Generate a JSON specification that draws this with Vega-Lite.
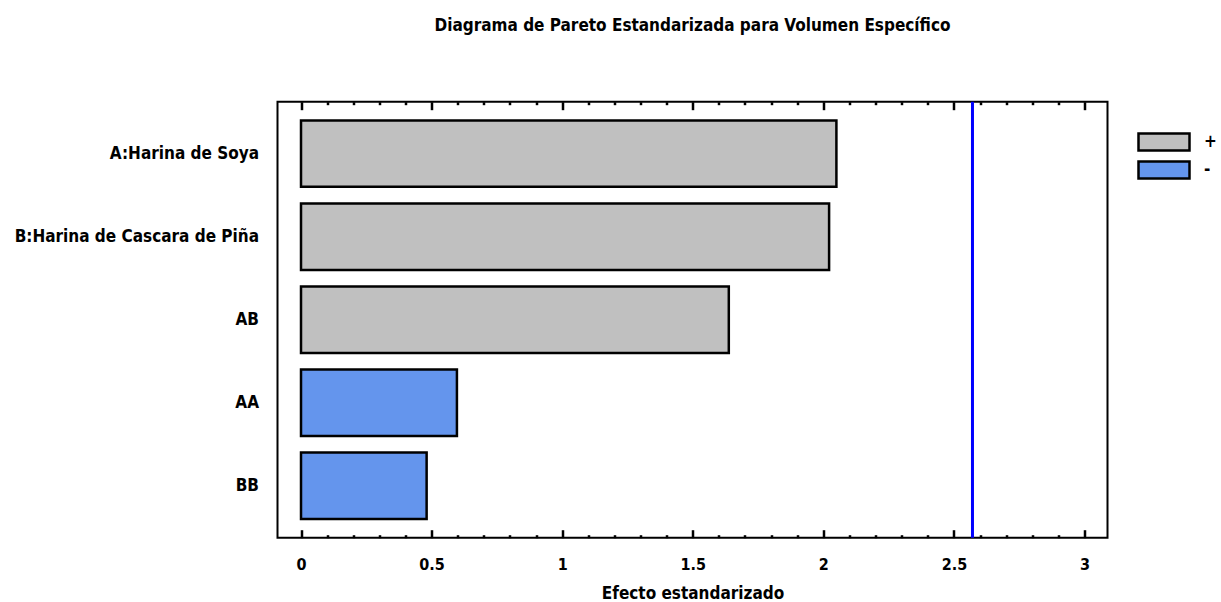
{
  "$schema": "https://vega.github.io/schema/vega-lite/v6.json",
  "width": 830,
  "height": 436,
  "autosize": "none",
  "padding": {"left": 277.5, "top": 101.7, "right": 113.5, "bottom": 64.3},
  "background": "white",
  "config": {
    "view": {"stroke": "black", "strokeWidth": 2},
    "font": "DejaVu Sans Condensed"
  },
  "title": {
    "text": "Diagrama de Pareto Estandarizada para Volumen Específico",
    "font": "DejaVu Sans Condensed",
    "fontSize": 17,
    "fontWeight": "bold",
    "color": "black",
    "anchor": "middle",
    "offset": 65
  },
  "resolve": {"axis": {"x": "independent"}},
  "layer": [
    {
      "data": {
        "values": [
          {"factor": "A:Harina de Soya", "efecto": 2.05, "signo": "+"},
          {"factor": "B:Harina de Cascara de Piña", "efecto": 2.022, "signo": "+"},
          {"factor": "AB", "efecto": 1.638, "signo": "+"},
          {"factor": "AA", "efecto": 0.597, "signo": "-"},
          {"factor": "BB", "efecto": 0.481, "signo": "-"}
        ]
      },
      "mark": {"type": "bar", "stroke": "black", "strokeWidth": 2.5},
      "encoding": {
        "y": {
          "field": "factor",
          "type": "nominal",
          "sort": null,
          "scale": {"paddingInner": 0.2, "paddingOuter": 0.226},
          "axis": {
            "title": null,
            "ticks": false,
            "domain": false,
            "labelPadding": 19,
            "labelLimit": 400,
            "labelFontSize": 17,
            "labelFontWeight": "bold",
            "labelColor": "black",
            "labelFont": "DejaVu Sans Condensed"
          }
        },
        "x": {
          "field": "efecto",
          "type": "quantitative",
          "scale": {"domain": [-0.09, 3.088], "nice": false, "zero": false},
          "axis": {
            "orient": "bottom",
            "values": [0, 0.1, 0.2, 0.3, 0.4, 0.5, 0.6, 0.7, 0.8, 0.9, 1, 1.1, 1.2, 1.3, 1.4, 1.5, 1.6, 1.7, 1.8, 1.9, 2, 2.1, 2.2, 2.3, 2.4, 2.5, 2.6, 2.7, 2.8, 2.9, 3],
            "format": "~g",
            "labelExpr": "abs(round(datum.value*2) - datum.value*2) < 0.001 ? datum.label : ''",
            "tickSize": {"condition": {"test": "abs(round(datum.value*2) - datum.value*2) < 0.001", "value": -8}, "value": -3},
            "tickWidth": 2.5,
            "tickColor": "black",
            "domain": false,
            "grid": false,
            "labelPadding": 27,
            "labelFontSize": 16,
            "labelFontWeight": "bold",
            "labelColor": "black",
            "labelFont": "DejaVu Sans Condensed",
            "title": "Efecto estandarizado",
            "titleFontSize": 17,
            "titleFontWeight": "bold",
            "titleColor": "black",
            "titleFont": "DejaVu Sans Condensed",
            "titlePadding": 13
          }
        },
        "color": {
          "field": "signo",
          "type": "nominal",
          "scale": {"domain": ["+", "-"], "range": ["#C0C0C0", "#6495ED"]},
          "legend": {
            "title": null,
            "orient": "none",
            "legendX": 876.5,
            "legendY": 30.3,
            "padding": 0,
            "symbolType": "M-3,-1H3V1H-3Z",
            "symbolSize": 289,
            "symbolStrokeColor": "black",
            "symbolStrokeWidth": 2.5,
            "symbolOpacity": 1,
            "labelOffset": 30,
            "rowPadding": 0,
            "labelFontSize": 17,
            "labelFontWeight": "bold",
            "labelColor": "black",
            "labelFont": "DejaVu Sans Condensed"
          }
        }
      }
    },
    {
      "data": {"values": [{"critico": 2.571}]},
      "mark": {"type": "rule", "color": "#0000FF", "strokeWidth": 3},
      "encoding": {
        "x": {
          "field": "critico",
          "type": "quantitative",
          "scale": {"domain": [-0.09, 3.088], "nice": false, "zero": false},
          "axis": {
            "orient": "top",
            "values": [0, 0.1, 0.2, 0.3, 0.4, 0.5, 0.6, 0.7, 0.8, 0.9, 1, 1.1, 1.2, 1.3, 1.4, 1.5, 1.6, 1.7, 1.8, 1.9, 2, 2.1, 2.2, 2.3, 2.4, 2.5, 2.6, 2.7, 2.8, 2.9, 3],
            "labels": false,
            "tickSize": {"condition": {"test": "abs(round(datum.value*2) - datum.value*2) < 0.001", "value": -8}, "value": -3},
            "tickWidth": 2.5,
            "tickColor": "black",
            "domain": false,
            "grid": false,
            "title": null
          }
        }
      }
    }
  ]
}
